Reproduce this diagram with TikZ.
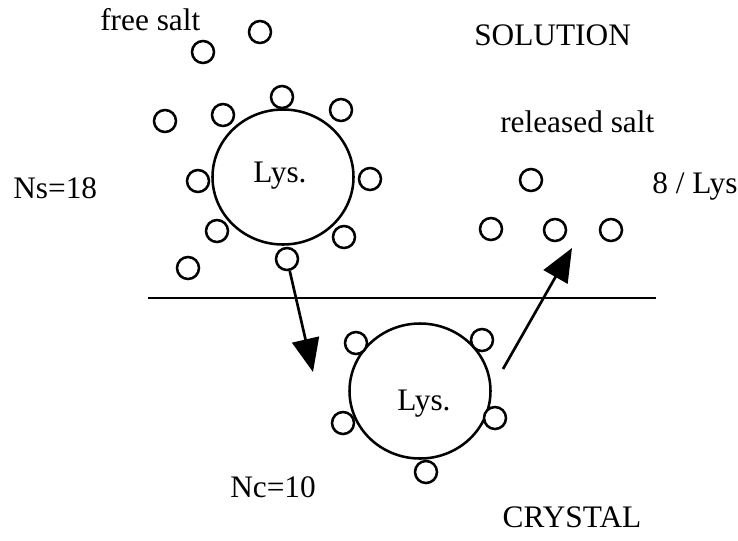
\documentclass[tikz,border=0pt]{standalone}
\usepackage{fontspec}
\setmainfont{Liberation Serif}
\usetikzlibrary{shapes.geometric,arrows.meta}

\begin{document}
\begin{tikzpicture}[x=0.75pt,y=-0.75pt,
        sale/.style={circle, draw, fill=white, line width=1.9pt, minimum size=16.5pt, inner sep=0pt},
        lisozima/.style={ellipse, draw, line width=1.9pt, minimum width=105.75pt, minimum height=101.25pt, inner sep=0pt},
        testo/.style={font=\fontsize{23.5}{27}\selectfont, inner sep=0pt},
        freccia/.style={line width=2pt, -{Triangle[length=25pt,width=20.5pt]}}]
    \useasboundingbox (0,0) rectangle (738,540);

        % Nodi: le due molecole
        \node[lisozima] (L1) at (283,177) {};
        \node[lisozima] (L2) at (420,391) {};
        \node[testo, anchor=base] (T1) at (280,182) {Lys.};
        \node[testo, anchor=base] (T2) at (424,410) {Lys.};

        % Sale legato in soluzione
        \node[sale] (S1) at (282,97) {};
        \node[sale] (S2) at (341,110) {};
        \node[sale] (S3) at (370,179) {};
        \node[sale] (S4) at (344,237) {};
        \node[sale] (S5) at (287,259) {};
        \node[sale] (S6) at (217,231) {};
        \node[sale] (S7) at (198,181) {};
        \node[sale] (S8) at (223,115) {};

        % Sale libero
        \node[sale] (F1) at (203,52) {};
        \node[sale] (F2) at (260,32) {};
        \node[sale] (F3) at (165,121) {};
        \node[sale] (F4) at (188,268) {};

        % Sale legato nel cristallo
        \node[sale] (C1) at (356,343) {};
        \node[sale] (C2) at (482,340) {};
        \node[sale] (C3) at (495,418) {};
        \node[sale] (C4) at (426,472) {};
        \node[sale] (C5) at (343,423) {};

        % Sale rilasciato
        \node[sale] (R1) at (531,180) {};
        \node[sale] (R2) at (491,229) {};
        \node[sale] (R3) at (555,230) {};
        \node[sale] (R4) at (611,230) {};

        % Interfaccia soluzione / cristallo
        \coordinate (I1) at (148,298);
        \coordinate (I2) at (656,298);
        \draw[line width=1.9pt] (I1) -- (I2);

        % Testi
        \node[testo, anchor=base west] (free) at (100,30) {free salt};
        \node[testo, anchor=base west] (sol) at (474,45) {SOLUTION};
        \node[testo, anchor=base west] (rel) at (500,132) {released salt};
        \node[testo, anchor=base west] (per) at (652,193) {8 / Lys};
        \node[testo, anchor=base west] (ns) at (13,198) {Ns=18};
        \node[testo, anchor=base west] (nc) at (230,497) {Nc=10};
        \node[testo, anchor=base] (cry) at (572,527) {CRYSTAL};

        % Frecce
        \coordinate (A1) at (313,372);
        \coordinate (B1) at (503,369);
        \coordinate (B2) at (572,248);
        \draw[freccia] (S5) -- (A1); % dalla soluzione al cristallo
        \draw[freccia] (B1) -- (B2); % sale che torna in soluzione
\end{tikzpicture}
\end{document}
